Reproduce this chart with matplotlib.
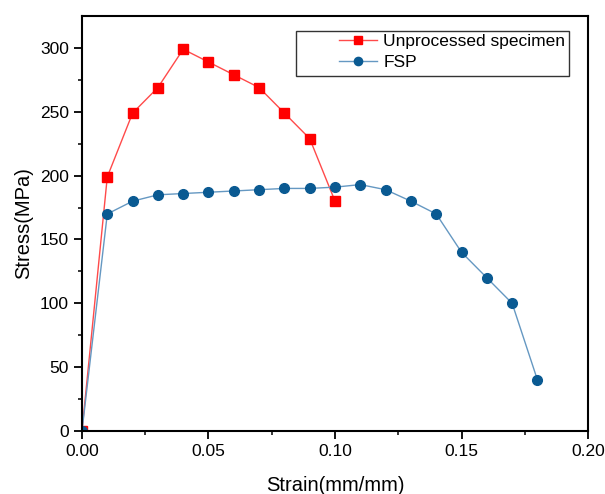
import numpy as np
import matplotlib.pyplot as plt
from matplotlib.patches import Rectangle

plt.rcParams['font.family'] = ['Liberation Sans', 'DejaVu Sans']

# strain (mm/mm) and stress (MPa)
strain_unproc = [0.00, 0.01, 0.02, 0.03, 0.04, 0.05, 0.06, 0.07, 0.08, 0.09, 0.10]
stress_unproc = [0, 199, 249, 269, 299, 289, 279, 269, 249, 229, 180]

strain_fsp = [0.00, 0.01, 0.02, 0.03, 0.04, 0.05, 0.06, 0.07, 0.08, 0.09,
              0.10, 0.11, 0.12, 0.13, 0.14, 0.15, 0.16, 0.17, 0.18]
stress_fsp = [0, 170, 180, 185, 186, 187, 188, 189, 190, 190,
              191, 193, 189, 180, 170, 140, 120, 100, 40]

fig = plt.figure(figsize=(6.05, 4.94), dpi=100)
ax = fig.add_axes([0.1355, 0.1275, 0.8365, 0.84])

ax.plot(strain_unproc, stress_unproc, '-', color='#ff4a4a', lw=1.0,
        marker='s', ms=6.5, mfc='#ff0000', mec='#ff0000', label='Unprocessed specimen')
ax.plot(strain_fsp, stress_fsp, '-', color='#6598c2', lw=1.0,
        marker='o', ms=7, mfc='#0a5a92', mec='#0a5a92', label='FSP')

ax.set_xlim(0, 0.2)
ax.set_ylim(0, 325)
ax.set_xticks(np.arange(0, 0.201, 0.05))
ax.set_xticks(np.arange(0.025, 0.2, 0.05), minor=True)
ax.set_yticks(np.arange(0, 301, 50))
ax.set_yticks(np.arange(25, 325, 50), minor=True)
ax.xaxis.set_major_formatter(plt.FuncFormatter(lambda v, p: f'{v:.2f}'))

ax.tick_params(which='major', direction='out', length=6, width=1.3, labelsize=12.5)
ax.tick_params(which='minor', direction='out', length=3, width=1.1)
for s in ax.spines.values():
    s.set_linewidth(1.5)

ax.set_xlabel('Strain(mm/mm)', fontsize=14.5, labelpad=12)
ax.set_ylabel('Stress(MPa)', fontsize=14.5, labelpad=5)

# legend without its own frame; the wider box is drawn separately
leg = ax.legend(loc='upper right', bbox_to_anchor=(0.962, 0.965), fontsize=12.5,
                frameon=False, borderpad=0.2, labelspacing=0.35,
                handlelength=2.2, handletextpad=0.35, borderaxespad=0,
                markerscale=0.85)
ax.add_patch(Rectangle((0.423, 0.8554), 0.539, 0.1085, transform=ax.transAxes,
                       fill=False, edgecolor='#333333', lw=1.0, zorder=5))

fig.savefig('out.png', dpi=100)
